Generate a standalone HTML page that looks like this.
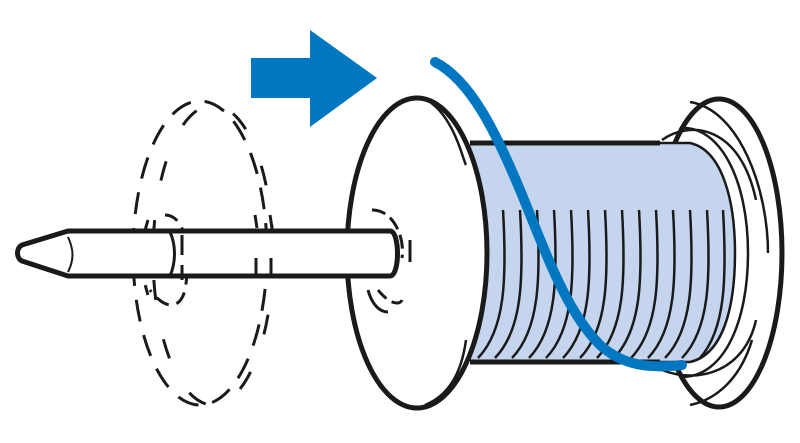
<!DOCTYPE html>
<html><head><meta charset="utf-8"><style>html,body{margin:0;padding:0;background:#fff}svg{display:block}</style></head>
<body>
<svg width="800" height="443" viewBox="0 0 800 443" xmlns="http://www.w3.org/2000/svg">
<!-- arrow -->
<polygon points="251,58 310,58 310,30 377,78 310,127 310,98 251,98" fill="#0077c0"/>

<!-- back flange -->
<ellipse cx="719" cy="253" rx="63" ry="154" fill="#fff" stroke="#1a1a1a" stroke-width="5"/>
<path d="M690,102 C740,110 768,190 768,253" fill="none" stroke="#1a1a1a" stroke-width="2.5"/>
<path d="M752,340 C740,380 715,400 690,405" fill="none" stroke="#1a1a1a" stroke-width="2.5"/>
<path d="M662,140 C690,120 740,125 756,200" fill="none" stroke="#1a1a1a" stroke-width="2.5"/>
<path d="M756,320 C745,370 700,385 662,370" fill="none" stroke="#1a1a1a" stroke-width="2.5"/>
<path d="M680,128 C720,125 748,180 748,253 C748,320 725,378 680,377" fill="none" stroke="#1a1a1a" stroke-width="2.5"/>

<!-- thread body -->
<path d="M470,143 L690,143 C722,150 735,200 735,253 C735,310 722,355 690,362 L470,362 Z" fill="#c5d5ee"/>
<path d="M470,143 L690,143 C722,150 735,200 735,253 C735,310 722,355 690,362 L470,362" fill="none" stroke="#1a1a1a" stroke-width="2.5"/>
<line x1="470" y1="143" x2="660" y2="143" stroke="#1a1a1a" stroke-width="5"/>
<line x1="470" y1="362" x2="660" y2="362" stroke="#1a1a1a" stroke-width="5"/>
<g fill="none" stroke="#1a1a1a" stroke-width="2.5">
<path d="M503,210 C507,280 505,330 478,358"/>
<path d="M520,210 C524,280 522,330 495,358"/>
<path d="M537,210 C541,280 539,330 512,358"/>
<path d="M554,210 C558,280 556,330 529,358"/>
<path d="M571,210 C575,280 573,330 546,358"/>
<path d="M588,210 C592,280 590,330 563,358"/>
<path d="M605,210 C609,280 607,330 580,358"/>
<path d="M622,210 C626,280 624,330 597,358"/>
<path d="M639,210 C643,280 641,330 614,358"/>
<path d="M656,210 C660,280 658,330 631,358"/>
<path d="M673,210 C677,280 675,330 648,358"/>
<path d="M690,210 C694,280 692,330 665,358"/>
<path d="M707,210 C711,280 709,330 682,358"/>
<path d="M723,210 C727,280 725,330 700,358"/>
</g>

<!-- front flange -->
<ellipse cx="417" cy="253" rx="70" ry="155" fill="#fff" stroke="#1a1a1a" stroke-width="5"/>
<path d="M430,102 C455,120 463,160 466,165" fill="none" stroke="#1a1a1a" stroke-width="2.5"/>
<path d="M466,340 C462,370 450,395 425,405" fill="none" stroke="#1a1a1a" stroke-width="2.5"/>

<!-- dashed disc -->
<g fill="none" stroke="#1a1a1a" stroke-width="3" stroke-dasharray="22,14">
<ellipse cx="200" cy="253" rx="67" ry="152"/>
<ellipse cx="213" cy="255" rx="60" ry="150" stroke-dasharray="20,40"/>
<path d="M165,215 C185,215 192,250 185,290 C180,310 165,310 150,290" stroke-dasharray="14,8"/>
<path d="M148,220 C140,245 140,270 148,295" stroke-dasharray="14,8"/>
</g>

<!-- pin -->
<path d="M22,245 L68,231 L390,231 C400,231 400,276 390,276 L68,276 L22,261 C16,258 16,248 22,245 Z" fill="#fff" stroke="#1a1a1a" stroke-width="5" stroke-linejoin="round"/>
<path d="M68,237 C74,250 74,260 68,272" fill="none" stroke="#1a1a1a" stroke-width="2"/>
<g fill="none" stroke="#1a1a1a" stroke-width="3">
<path d="M170,232 C176,245 176,262 170,276"/>
<path d="M182,235 L182,280" stroke-dasharray="20,10"/>
<path d="M255,215 L257,228 M270,215 L272,228 M256,258 L256,275 M271,258 L271,275"/>
<path d="M372,210 C395,210 405,240 402,258" stroke-dasharray="14,6"/>
<path d="M410,240 L410,262"/>
<path d="M378,290 C390,305 400,305 402,300" stroke-dasharray="12,6"/>
<path d="M368,290 C372,305 380,312 388,312"/>
</g>

<!-- blue thread -->
<path d="M435,62 C470,80 495,130 520,190 C545,250 565,310 600,345 C625,368 655,368 682,365" fill="none" stroke="#0077c0" stroke-width="10" stroke-linecap="round"/>
</svg>
</body></html>
